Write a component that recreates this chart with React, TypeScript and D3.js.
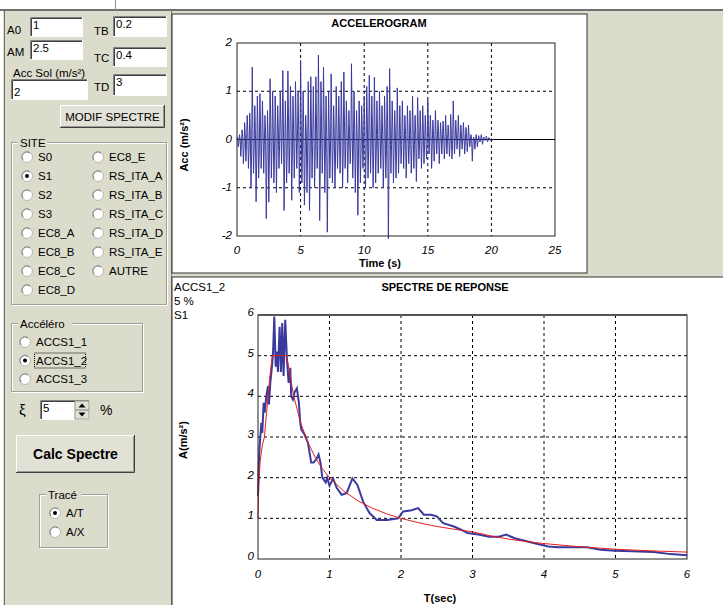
import React from 'react';
import * as d3 from 'd3';

// accelerogram samples, dt = 0.05 s (m/s²)
const ACC_DT = 0.05;
const accValues = [
  0, 0.05, -0.15, -0.05, 0.1, 0.0, -0.35, -0.1, 0.2, 0.05, -0.5, -0.2, 0.35, 0.1, -0.45, -0.1, 0.5, 0.15, -0.6, -0.2,
  0.55, 0.1, -1.0, -0.3, 1.5, 0.2, -0.7, -0.15, 0.7, 0.1, -1.29, -0.4, 0.9, 0.2, -0.8, -0.3, 0.95, 0.3, -0.6, -0.1,
  0.8, 0.2, -0.7, -0.1, 0.5, 0.1, -1.64, -0.5, 0.6, 0.0, -1.3, -0.3, 1.26, 0.4, -0.8, -0.2, 1.0, 0.2, -0.9, -0.3,
  0.9, 0.3, -1.1, -0.2, 0.7, 0.2, -0.6, -0.1, 1.0, 0.3, -0.5, 0.1, 1.43, 0.3, -1.47, -0.4, 0.8, 0.1, -0.9, -0.2,
  1.42, 0.4, -0.7, -0.1, 1.1, 0.3, -1.26, -0.3, 0.9, 0.2, -0.8, -0.2, 1.2, 0.3, -0.6, 0.0, 1.0, 0.2, -1.1, -0.3,
  1.64, 0.3, -0.9, -0.2, 1.0, 0.1, -1.36, -0.4, 0.5, 0.1, -1.1, -0.3, 1.2, 0.2, -1.47, -0.5, 1.3, 0.3, -0.8, -0.1,
  1.1, 0.2, -1.0, -0.3, 1.3, 0.3, -0.6, -0.1, 1.75, 0.4, -1.68, -0.5, 1.2, 0.3, -0.7, -0.2, 1.5, 0.4, -1.1, -0.3,
  0.9, 0.1, -1.92, -0.5, 1.0, 0.2, -0.8, -0.2, 1.36, 0.4, -0.9, -0.2, 0.7, 0.1, -1.0, -0.3, 1.1, 0.3, -0.6, -0.1,
  0.9, 0.2, -0.7, -0.1, 1.2, 0.3, -1.0, -0.3, 1.4, 0.4, -0.6, -0.1, 0.8, 0.2, -0.9, -0.2, 0.6, 0.1, -0.5, -0.1,
  1.57, 0.4, -0.8, -0.2, 1.0, 0.2, -1.1, -0.3, 0.6, 0.0, -1.57, -0.4, 0.8, 0.2, -0.9, -0.3, 0.7, 0.2, -0.6, -0.1,
  0.9, 0.2, -1.0, -0.3, 1.1, 0.3, -0.8, -0.2, 1.33, 0.3, -0.7, -0.1, 0.9, 0.2, -1.0, -0.2, 1.29, 0.3, -0.9, -0.2,
  0.8, 0.1, -0.7, -0.2, 1.0, 0.3, -0.6, -0.1, 0.7, 0.1, -1.0, -0.3, 0.9, 0.2, -0.8, -0.2, 1.1, 0.2, -2.06, -0.5,
  1.47, 0.3, -0.7, -0.1, 0.8, 0.2, -0.9, -0.2, 0.6, 0.1, -0.8, -0.2, 1.07, 0.2, -0.7, -0.1, 0.7, 0.1, -0.5, -0.1,
  0.8, 0.2, -0.6, -0.1, 0.5, 0.1, -0.8, -0.2, 0.7, 0.1, -0.5, -0.1, 0.6, 0.1, -0.7, -0.2, 0.9, 0.2, -0.6, -0.1,
  0.5, 0.1, -0.87, -0.2, 0.87, 0.2, -0.4, -0.1, 0.6, 0.1, -0.6, -0.1, 0.7, 0.2, -0.5, -0.1, 0.5, 0.1, -0.4, -0.1,
  0.82, 0.2, -0.3, 0.0, 0.5, 0.1, -0.6, -0.1, 0.4, 0.1, -0.45, -0.1, 0.6, 0.1, -0.3, 0.0, 0.4, 0.1, -0.5, -0.1,
  0.35, 0.1, -0.3, 0.0, 0.38, 0.1, -0.4, -0.1, 0.5, 0.1, -0.3, 0.0, 0.3, 0.05, -0.35, -0.1, 0.52, 0.1, -0.4, -0.1,
  0.8, 0.2, -0.3, 0.0, 0.4, 0.1, -0.2, 0.0, 0.5, 0.1, -0.35, -0.05, 0.3, 0.05, -0.2, 0.0, 0.35, 0.05, -0.3, -0.05,
  0.25, 0.05, -0.25, -0.05, 0.3, 0.05, -0.15, 0.0, 0.1, 0.0, -0.45, -0.1, 0.05, 0.0, -0.2, -0.05, 0.1, 0.0, -0.15, -0.03,
  0.08, 0.02, -0.05, 0.0, 0.1, 0.03, -0.1, -0.02, 0.05, 0.0, -0.02, 0.0, 0.07, 0.02, -0.05, 0.0, 0.04, 0.01, -0.02, 0.0,
  0.02, 0.0, -0.01, 0.0, 0,
];
const accXTicks = [0, 5, 10, 15, 20, 25];
const accYTicks = [-2, -1, 0, 1, 2];

// response spectrum (blue) and code spectrum (red), [T (s), A (m/s²)]
const spectreCalc: [number, number][] = [
  [0, 1.55], [0.014, 2.45], [0.023, 2.78], [0.047, 3.35], [0.06, 3.1], [0.079, 3.84],
  [0.093, 3.6], [0.116, 4.0], [0.14, 4.25], [0.153, 3.8], [0.172, 4.33], [0.195, 4.73],
  [0.21, 5.06], [0.228, 5.96], [0.247, 4.73], [0.265, 5.1], [0.279, 4.6], [0.302, 5.71],
  [0.321, 4.6], [0.339, 5.8], [0.358, 4.5], [0.381, 5.88], [0.405, 4.9], [0.428, 4.33],
  [0.451, 4.7], [0.465, 4.0], [0.488, 3.92], [0.511, 4.1], [0.544, 4.2], [0.572, 3.84],
  [0.591, 3.35], [0.605, 3.18], [0.651, 3.06], [0.698, 2.86], [0.744, 2.37], [0.777, 2.37],
  [0.814, 2.45], [0.847, 2.57], [0.874, 2.37], [0.9, 2.0], [0.947, 1.88], [0.968, 2.0],
  [1.0, 1.8], [1.05, 1.98], [1.1, 1.75], [1.17, 1.58], [1.24, 1.62], [1.32, 1.98],
  [1.39, 1.82], [1.47, 1.41], [1.56, 1.13], [1.66, 0.96], [1.81, 0.96], [1.96, 1.0],
  [2.03, 1.17], [2.15, 1.2], [2.24, 1.25], [2.32, 1.09], [2.42, 1.09], [2.5, 1.05],
  [2.59, 0.88], [2.74, 0.8], [2.84, 0.72], [2.93, 0.64], [3.08, 0.6], [3.23, 0.55],
  [3.37, 0.55], [3.47, 0.6], [3.59, 0.51], [3.77, 0.43], [3.91, 0.37], [4.06, 0.31],
  [4.2, 0.29], [4.4, 0.29], [4.6, 0.29], [4.79, 0.23], [4.99, 0.2], [5.23, 0.19],
  [5.53, 0.17], [5.77, 0.12], [6.0, 0.09],
];
const spectreCode: [number, number][] = [
  [0, 1.0], [0.01, 1.8], [0.03, 2.4], [0.06, 2.8], [0.09, 3.0], [0.12, 3.6], [0.16, 4.4],
  [0.2, 5.0], [0.4, 5.0], [0.5, 4.0], [0.6, 3.33], [0.7, 2.86], [0.8, 2.5], [0.9, 2.22],
  [1.0, 2.0], [1.2, 1.67], [1.4, 1.43], [1.6, 1.25], [1.8, 1.11], [2.0, 1.0], [2.25, 0.89],
  [2.5, 0.8], [2.75, 0.73], [3.0, 0.67], [3.25, 0.57], [3.5, 0.49], [3.75, 0.43],
  [4.0, 0.38], [4.5, 0.3], [5.0, 0.24], [5.5, 0.2], [6.0, 0.17],
];
const specXTicks = [0, 1, 2, 3, 4, 5, 6];
const specYTicks = [0, 1, 2, 3, 4, 5, 6];

const siteCol1 = ['S0', 'S1', 'S2', 'S3', 'EC8_A', 'EC8_B', 'EC8_C', 'EC8_D'];
const siteCol2 = ['EC8_E', 'RS_ITA_A', 'RS_ITA_B', 'RS_ITA_C', 'RS_ITA_D', 'RS_ITA_E', 'AUTRE'];
const acceleros = ['ACCS1_1', 'ACCS1_2', 'ACCS1_3'];
const traces = ['A/T', 'A/X'];

const BG = '#dcdccc';
const UI_FONT = '"Liberation Sans", Arial, sans-serif';
const BLUE = '#3a3a9e';

function Input({ x, y, w, h, value }) {
  return (
    <g>
      <rect x={x} y={y} width={w} height={h} fill="#fff" />
      <path d={`M${x + 0.5},${y + h}V${y + 0.5}H${x + w}`} stroke="#808080" fill="none" />
      <path d={`M${x + 1.5},${y + h - 1}V${y + 1.5}H${x + w - 1}`} stroke="#404040" fill="none" />
      <path d={`M${x},${y + h - 0.5}H${x + w - 0.5}V${y}`} stroke="#fff" fill="none" />
      <text x={x + 3} y={y + 12} fontSize={11.5} fontFamily={UI_FONT}>{value}</text>
    </g>
  );
}

function Button({ x, y, w, h, label, bold = false, size = 11.5 }) {
  return (
    <g>
      <rect x={x} y={y} width={w} height={h} fill="#e2e1d6" />
      <path d={`M${x + 0.5},${y + h}V${y + 0.5}H${x + w}`} stroke="#fff" fill="none" />
      <path d={`M${x},${y + h - 0.5}H${x + w - 0.5}V${y}`} stroke="#404040" fill="none" />
      <path d={`M${x + 1},${y + h - 1.5}H${x + w - 1.5}V${y + 1}`} stroke="#9a9a90" fill="none" />
      <text x={x + w / 2} y={y + h / 2 + size * 0.36} textAnchor="middle" fontSize={size}
        fontWeight={bold ? 'bold' : 'normal'} fontFamily={UI_FONT}>{label}</text>
    </g>
  );
}

function Radio({ cx, cy, label, checked = false, focus = false }) {
  return (
    <g>
      <circle cx={cx} cy={cy} r={5.5} fill="#fff" stroke="#b8b8b0" />
      <path d={`M${cx - 4},${cy + 3} A5,5 0 0 1 ${cx + 3},${cy - 4}`} stroke="#808080" fill="none" />
      {checked && <circle cx={cx} cy={cy} r={2} fill="#000" />}
      <text x={cx + 11} y={cy + 4} fontSize={11.5} fontFamily={UI_FONT}>{label}</text>
      {focus && (
        <rect x={cx + 9.5} y={cy - 7.5} width={label.length * 7 + 2} height={15}
          fill="none" stroke="#000" strokeDasharray="1,1" />
      )}
    </g>
  );
}

function GroupBox({ x, y, w, h, label }) {
  const lw = label.length * 6.3 + 4;
  return (
    <g>
      <rect x={x + 0.5} y={y + 0.5} width={w} height={h} fill="none" stroke="#fff" />
      <rect x={x - 0.5} y={y - 0.5} width={w} height={h} fill="none" stroke="#a0a098" />
      <rect x={x + 6} y={y - 6} width={lw} height={11} fill={BG} />
      <text x={x + 8} y={y + 4} fontSize={11.5} fontFamily={UI_FONT}>{label}</text>
    </g>
  );
}

function Accelerogram() {
  const x = d3.scaleLinear().domain([0, 25]).range([237, 555]);
  const y = d3.scaleLinear().domain([-2, 2]).range([236, 43]);
  const line = d3.line<number>().x((_, i) => x(i * ACC_DT)).y(d => y(d));
  return (
    <g>
      <rect x={172} y={14} width={415} height={259} fill="#fff" stroke="#303030" />
      <text x={379} y={27} textAnchor="middle" fontSize={11} fontWeight="bold" fontFamily={UI_FONT}>ACCELEROGRAM</text>
      {accXTicks.slice(1, -1).map(t => (
        <line key={t} x1={x(t)} x2={x(t)} y1={43} y2={236} stroke="#000" strokeDasharray="3,3" />
      ))}
      {[1, -1].map(v => (
        <line key={v} x1={237} x2={555} y1={y(v)} y2={y(v)} stroke="#000" strokeDasharray="3,3" />
      ))}
      <line x1={237} x2={555} y1={y(0)} y2={y(0)} stroke="#000" />
      <path d={line(accValues) || ''} fill="none" stroke={BLUE} strokeWidth={1} />
      <rect x={237} y={43} width={318} height={193} fill="none" stroke="#222" />
      {accXTicks.map(t => (
        <text key={t} x={x(t)} y={254} textAnchor="middle" fontSize={11.5} fontStyle="italic" fontFamily={UI_FONT}>{t}</text>
      ))}
      {accYTicks.map(v => (
        <text key={v} x={232} y={y(v) + 3} textAnchor="end" fontSize={11.5} fontStyle="italic" fontFamily={UI_FONT}>{v}</text>
      ))}
      <text x={380} y={267} textAnchor="middle" fontSize={11} fontWeight="bold" fontFamily={UI_FONT}>Time (s)</text>
      <text transform="translate(188,145) rotate(-90)" textAnchor="middle" fontSize={11} fontWeight="bold" fontFamily={UI_FONT}>Acc (m/s²)</text>
    </g>
  );
}

function Spectre() {
  const x = d3.scaleLinear().domain([0, 6]).range([258, 687]);
  const y = d3.scaleLinear().domain([0, 6]).range([559, 315]);
  const line = d3.line<[number, number]>().x(d => x(d[0])).y(d => y(d[1]));
  return (
    <g>
      <rect x={172} y={277} width={560} height={340} fill="#fff" stroke="#303030" />
      <text x={174} y={291} fontSize={11.5} fontFamily={UI_FONT}>ACCS1_2</text>
      <text x={174} y={305} fontSize={11.5} fontFamily={UI_FONT}>5 %</text>
      <text x={174} y={319} fontSize={11.5} fontFamily={UI_FONT}>S1</text>
      <text x={445} y={291} textAnchor="middle" fontSize={11} fontWeight="bold" fontFamily={UI_FONT}>SPECTRE DE REPONSE</text>
      {specXTicks.slice(1, -1).map(t => (
        <line key={t} x1={x(t)} x2={x(t)} y1={315} y2={559} stroke="#000" strokeDasharray="3,3" />
      ))}
      {specYTicks.slice(1, -1).map(v => (
        <line key={v} x1={258} x2={687} y1={y(v)} y2={y(v)} stroke="#000" strokeDasharray="3,3" />
      ))}
      <path d={line(spectreCalc) || ''} fill="none" stroke={BLUE} strokeWidth={2} />
      <path d={line(spectreCode) || ''} fill="none" stroke="#e61e1e" strokeWidth={1} />
      <rect x={258} y={315} width={429} height={244} fill="none" stroke="#222" />
      <line x1={258} x2={687} y1={315} y2={315} stroke="#555" strokeWidth={2} />
      {specXTicks.map(t => (
        <text key={t} x={x(t)} y={578} textAnchor="middle" fontSize={11.5} fontStyle="italic" fontFamily={UI_FONT}>{t}</text>
      ))}
      {specYTicks.map(v => (
        <text key={v} x={254} y={y(v) + 1} textAnchor="end" fontSize={11.5} fontStyle="italic" fontFamily={UI_FONT}>{v}</text>
      ))}
      <text x={440} y={602} textAnchor="middle" fontSize={11} fontWeight="bold" fontFamily={UI_FONT}>T(sec)</text>
      <text transform="translate(187,440) rotate(-90)" textAnchor="middle" fontSize={11} fontWeight="bold" fontFamily={UI_FONT}>A(m/s²)</text>
    </g>
  );
}

export default function App() {
  return (
    <div style={{ position: 'fixed', left: 0, top: 0 }}>
      <svg width={723} height={605} style={{ display: 'block' }}>
        <rect x={0} y={0} width={723} height={605} fill={BG} />
        <rect x={0} y={0} width={723} height={10} fill="#fff" />
        <line x1={0} x2={723} y1={10} y2={10} stroke="#707070" strokeWidth={2} />
        <line x1={115.5} x2={115.5} y1={0} y2={10} stroke="#909090" />
        <rect x={0} y={11} width={3} height={594} fill="#fff" />
        <line x1={4.5} x2={4.5} y1={11} y2={605} stroke="#707070" />

        {/* parameter inputs */}
        <text x={7} y={34} fontSize={11.5} fontFamily={UI_FONT}>A0</text>
        <Input x={30} y={17} w={53} h={20} value="1" />
        <text x={7} y={56} fontSize={11.5} fontFamily={UI_FONT}>AM</text>
        <Input x={30} y={40} w={53} h={20} value="2.5" />
        <text x={13} y={77} fontSize={11.5} fontFamily={UI_FONT}>Acc Sol (m/s²)</text>
        <Input x={11} y={79} w={77} h={21} value="" />
        <text x={14} y={96} fontSize={11.5} fontFamily={UI_FONT}>2</text>
        <text x={94} y={35} fontSize={11.5} fontFamily={UI_FONT}>TB</text>
        <Input x={113} y={16} w={54} h={21} value="0.2" />
        <text x={94} y={62} fontSize={11.5} fontFamily={UI_FONT}>TC</text>
        <Input x={113} y={47} w={54} h={20} value="0.4" />
        <text x={94} y={91} fontSize={11.5} fontFamily={UI_FONT}>TD</text>
        <Input x={113} y={74} w={54} h={22} value="3" />
        <Button x={60} y={105} w={105} h={23} label="MODIF SPECTRE" />

        {/* site */}
        <GroupBox x={12} y={143} w={155} h={162} label="SITE" />
        {siteCol1.map((s, i) => (
          <Radio key={s} cx={27} cy={157 + i * 19} label={s} checked={s === 'S1'} />
        ))}
        {siteCol2.map((s, i) => (
          <Radio key={s} cx={98} cy={157 + i * 19} label={s} />
        ))}

        {/* accelerogram choice */}
        <GroupBox x={12} y={324} w={131} h={68} label="Accéléro" />
        {acceleros.map((s, i) => (
          <Radio key={s} cx={25} cy={342 + i * 18.5} label={s} checked={i === 1} focus={i === 1} />
        ))}

        {/* damping */}
        <text x={19} y={415} fontSize={15} fontFamily={UI_FONT}>ξ</text>
        <Input x={40} y={400} w={50} h={20} value="5" />
        <rect x={75} y={401} width={14} height={18} fill="#e2e1d6" stroke="#9a9a90" />
        <line x1={75} x2={89} y1={410} y2={410} stroke="#808080" />
        <path d="M78.5,407.5 L82,403.5 L85.5,407.5Z" fill="#000" />
        <path d="M78.5,412.5 L82,416.5 L85.5,412.5Z" fill="#000" />
        <text x={100} y={415} fontSize={14} fontFamily={UI_FONT}>%</text>

        <Button x={16} y={435} w={119} h={38} label="Calc Spectre" bold size={14} />

        <GroupBox x={40} y={495} w={68} h={53} label="Tracé" />
        {traces.map((s, i) => (
          <Radio key={s} cx={55} cy={513 + i * 19} label={s} checked={i === 0} />
        ))}

        <line x1={171.5} x2={171.5} y1={11} y2={605} stroke="#808080" />
        <Accelerogram />
        <Spectre />
      </svg>
    </div>
  );
}
